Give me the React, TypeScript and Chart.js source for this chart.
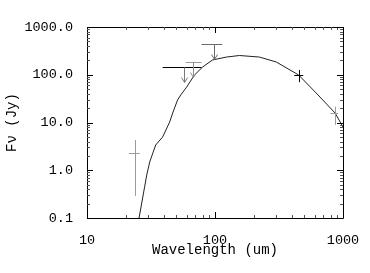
import React, { useEffect, useRef } from "react";
import { Chart, registerables } from "chart.js";

Chart.register(...registerables);

// SED model curve
const curveWavelength = [25.5, 28.2, 29.3, 30.9, 34.4, 39.0, 44.2, 46.7, 51.0, 54, 60, 69.2, 80, 95.7, 123, 155, 222, 301, 450, 617, 867, 1000];
const curveFlux = [0.1, 0.45, 0.8, 1.49, 3.38, 4.97, 10.2, 15.8, 29.6, 37.7, 55, 99, 145, 204, 235, 253, 235, 185, 99, 41.5, 15.8, 8.05];

// Detections with error bars
const detWavelength = [23.6, 450, 860];
const detFlux = [2.3, 99, 15.6];
const detFluxLow = [0.29, 70, 8.9];
const detFluxHigh = [4.3, 126, 21.4];
const detWaveLow = [21.2, 416, 801];
const detWaveHigh = [25.8, 489, 918];
const detColor = ["#9a9a9a", "#000000", "#9a9a9a"];

// Upper limits
const limWavelength = [57, 67, 99];
const limFlux = [143, 185, 435];
const limWaveLow = [39, 59, 78.5];
const limWaveHigh = [78.5, 78.5, 114];
const limBarColor = ["#000000", "#9a9a9a", "#6a6a6a"];
const limArrowColor = ["#7a7a7a", "#8a8a8a", "#6a6a6a"];

// Axis ticks
const xTickValues = [10, 100, 1000];
const yTickValues = [0.1, 1, 10, 100, 1000];
const minorMultipliers = [2, 3, 4, 5, 6, 7, 8, 9];

const TICK_FONT = { family: "'Liberation Mono', monospace", size: 13.5 };
const TITLE_FONT = { family: "'Liberation Mono', monospace", size: 14 };

const overlay = {
  id: "overlay",
  afterDatasetsDraw(chart: any) {
    const { ctx, chartArea: a, scales } = chart;
    const x = scales.x;
    const y = scales.y;
    ctx.save();
    ctx.lineWidth = 1;

    // error crosses
    for (let i = 0; i < detWavelength.length; i++) {
      ctx.strokeStyle = detColor[i];
      const px = Math.round(x.getPixelForValue(detWavelength[i])) + 0.5;
      const py = Math.round(y.getPixelForValue(detFlux[i])) + 0.5;
      ctx.beginPath();
      ctx.moveTo(x.getPixelForValue(detWaveLow[i]), py);
      ctx.lineTo(x.getPixelForValue(detWaveHigh[i]), py);
      ctx.moveTo(px, y.getPixelForValue(detFluxHigh[i]));
      ctx.lineTo(px, y.getPixelForValue(detFluxLow[i]));
      ctx.stroke();
    }

    // upper limits
    for (let i = 0; i < limWavelength.length; i++) {
      const px = Math.round(x.getPixelForValue(limWavelength[i])) + 0.5;
      const py = Math.round(y.getPixelForValue(limFlux[i])) + 0.5;
      ctx.strokeStyle = limBarColor[i];
      ctx.beginPath();
      ctx.moveTo(x.getPixelForValue(limWaveLow[i]), py);
      ctx.lineTo(x.getPixelForValue(limWaveHigh[i]), py);
      ctx.stroke();
      ctx.strokeStyle = limArrowColor[i];
      const tip = py + 15;
      ctx.beginPath();
      ctx.moveTo(px, py);
      ctx.lineTo(px, tip);
      ctx.moveTo(px - 3, tip - 5);
      ctx.lineTo(px, tip);
      ctx.lineTo(px + 3, tip - 5);
      ctx.stroke();
    }

    // frame
    ctx.strokeStyle = "#000";
    ctx.beginPath();
    ctx.rect(Math.round(a.left) + 0.5, Math.round(a.top) + 0.5, Math.round(a.right - a.left), Math.round(a.bottom - a.top));
    ctx.stroke();

    // ticks (inward, mirrored)
    const drawX = (v: number, len: number, color: string) => {
      const p = Math.round(x.getPixelForValue(v)) + 0.5;
      ctx.strokeStyle = color;
      ctx.beginPath();
      ctx.moveTo(p, a.bottom);
      ctx.lineTo(p, a.bottom - len);
      ctx.moveTo(p, a.top);
      ctx.lineTo(p, a.top + len);
      ctx.stroke();
    };
    const drawY = (v: number, len: number, color: string) => {
      const p = Math.round(y.getPixelForValue(v)) + 0.5;
      ctx.strokeStyle = color;
      ctx.beginPath();
      ctx.moveTo(a.left, p);
      ctx.lineTo(a.left + len, p);
      ctx.moveTo(a.right, p);
      ctx.lineTo(a.right - len, p);
      ctx.stroke();
    };
    for (let d = 0; d < xTickValues.length; d++) {
      drawX(xTickValues[d], 6, "#000");
      if (d < xTickValues.length - 1) {
        for (const m of minorMultipliers) drawX(xTickValues[d] * m, 3, "#555");
      }
    }
    for (let d = 0; d < yTickValues.length; d++) {
      drawY(yTickValues[d], 6, "#000");
      if (d < yTickValues.length - 1) {
        for (const m of minorMultipliers) drawY(yTickValues[d] * m, 3, "#555");
      }
    }
    ctx.restore();
  },
};

export default function App() {
  const ref = useRef<HTMLCanvasElement>(null);
  useEffect(() => {
    if (!ref.current) return;
    const chart = new Chart(ref.current, {
      type: "scatter",
      data: {
        datasets: [
          {
            data: curveWavelength.map((w, i) => ({ x: w, y: curveFlux[i] })),
            showLine: true,
            borderColor: "#222",
            borderWidth: 1,
            pointRadius: 0,
            tension: 0,
          },
        ],
      },
      options: {
        animation: false,
        responsive: false,
        maintainAspectRatio: false,
        layout: { padding: { top: 27, right: 27, left: 0, bottom: 0 } },
        plugins: { legend: { display: false }, tooltip: { enabled: false } },
        scales: {
          x: {
            type: "logarithmic",
            min: 10,
            max: 1000,
            grid: { display: false },
            border: { display: false },
            afterBuildTicks: (s: any) => {
              s.ticks = xTickValues.map((v) => ({ value: v }));
            },
            afterFit: (s: any) => {
              s.height = 55;
            },
            ticks: {
              color: "#000",
              font: TICK_FONT,
              padding: 6,
              maxRotation: 0,
              autoSkip: false,
              callback: (v: any) => String(Number(v)),
            },
            title: {
              display: true,
              text: "Wavelength (um)",
              color: "#000",
              font: TITLE_FONT,
              padding: { top: 0, bottom: 14 },
            },
          },
          y: {
            type: "logarithmic",
            min: 0.1,
            max: 1000,
            grid: { display: false },
            border: { display: false },
            afterBuildTicks: (s: any) => {
              s.ticks = yTickValues.map((v) => ({ value: v }));
            },
            afterFit: (s: any) => {
              s.width = 87;
            },
            ticks: {
              color: "#000",
              font: TICK_FONT,
              padding: 6,
              autoSkip: false,
              callback: (v: any) => Number(v).toFixed(1),
            },
            title: {
              display: true,
              text: "Fν (Jy)",
              color: "#000",
              font: TITLE_FONT,
              padding: { top: 4, bottom: 0 },
            },
          },
        },
      },
      plugins: [overlay],
    });
    return () => chart.destroy();
  }, []);
  return (
    <div style={{ position: "absolute", left: 0, top: 0, width: 370, height: 273, background: "#fff" }}>
      <canvas ref={ref} width={370} height={273} />
    </div>
  );
}
